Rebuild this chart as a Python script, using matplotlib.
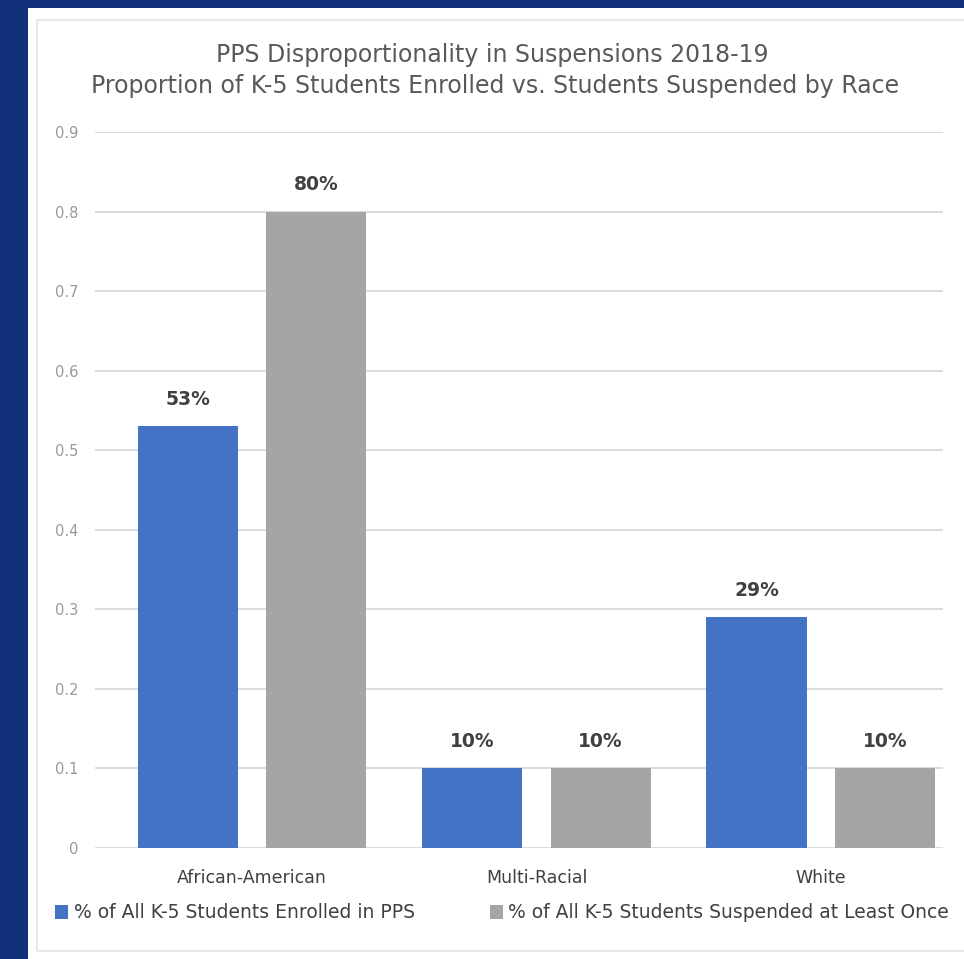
import matplotlib
matplotlib.use("Agg")
import matplotlib.pyplot as plt
from matplotlib.patches import Rectangle, Patch
import numpy as np

categories = ["African-American", "Multi-Racial", "White"]
enrolled = [0.53, 0.10, 0.29]
suspended = [0.80, 0.10, 0.10]
enrolled_labels = ["53%", "10%", "29%"]
suspended_labels = ["80%", "10%", "10%"]
series_names = ["% of All K-5 Students Enrolled in PPS",
                "% of All K-5 Students Suspended at Least Once"]
yticks = [0, 0.1, 0.2, 0.3, 0.4, 0.5, 0.6, 0.7, 0.8, 0.9]
ytick_labels = ["0", "0.1", "0.2", "0.3", "0.4", "0.5", "0.6", "0.7", "0.8", "0.9"]
title_lines = ["PPS Disproportionality in Suspensions 2018-19",
               "Proportion of K-5 Students Enrolled vs. Students Suspended by Race"]

NAVY = "#12317a"
BLUE = "#4472c4"
GRAY = "#a5a5a5"

W, H = 964, 959
fig = plt.figure(figsize=(W / 100, H / 100), dpi=100, facecolor=NAVY)

# white panel
fig.patches.append(Rectangle((28 / W, 0), 1 - 28 / W, 1 - 8 / H, transform=fig.transFigure,
                             facecolor="white", edgecolor="none", zorder=-3))
# faint inner chart border
fig.patches.append(Rectangle((37 / W, 1 - 951 / H), 1, (951 - 20) / H, transform=fig.transFigure,
                             facecolor="none", edgecolor="#e4e4e4", lw=1.2, zorder=-2))

ax_left, ax_right = 95 / W, 943 / W
ax_bottom, ax_top = 1 - 848 / H, 1 - 132 / H
ax = fig.add_axes([ax_left, ax_bottom, ax_right - ax_left, ax_top - ax_bottom])
ax.set_facecolor("none")
ax.set_zorder(2)

x = np.arange(len(categories))
bw = 0.352
off = 0.226
b1 = ax.bar(x - off, enrolled, bw, color=BLUE, zorder=3)
b2 = ax.bar(x + off, suspended, bw, color=GRAY, zorder=3)

for bars, labels in ((b1, enrolled_labels), (b2, suspended_labels)):
    for rect, lab in zip(bars, labels):
        ax.annotate(lab, (rect.get_x() + rect.get_width() / 2, rect.get_height()),
                    xytext=(0, 12.5), textcoords="offset points", ha="center", va="bottom",
                    fontsize=13.5, fontweight="bold", color="#404040", family="DejaVu Sans")

ax.set_xlim(-0.553, 2.430)
ax.set_ylim(0, 0.9)
ax.set_yticks(yticks)
ax.set_yticklabels(ytick_labels)
ax.yaxis.grid(True, color="#d9d9d9", lw=1.3, zorder=0)
ax.set_axisbelow(True)
for s in ax.spines.values():
    s.set_visible(False)
ax.tick_params(axis="y", length=0, pad=12, labelsize=10.5, labelcolor="#999999")
ax.set_xticks(x)
ax.set_xticklabels(categories)
ax.tick_params(axis="x", length=0, pad=15, labelsize=12.5, labelcolor="#404040")

fig.text(492 / W, 1 - 55 / H, title_lines[0], ha="center", va="center",
         fontsize=17, color="#595959", family="DejaVu Sans")
fig.text(495 / W, 1 - 86 / H, title_lines[1], ha="center", va="center",
         fontsize=17, color="#595959", family="DejaVu Sans")

handles = [Patch(facecolor=BLUE), Patch(facecolor=GRAY)]
fig.legend(handles, series_names, loc="center left", bbox_to_anchor=(55 / W, 1 - 913 / H),
           ncol=2, frameon=False, fontsize=13.5, labelcolor="#404040",
           handlelength=0.7, handleheight=0.75, handletextpad=0.3, columnspacing=4.0,
           borderaxespad=0, borderpad=0)

fig.savefig("out.png", dpi=100, facecolor=NAVY)
